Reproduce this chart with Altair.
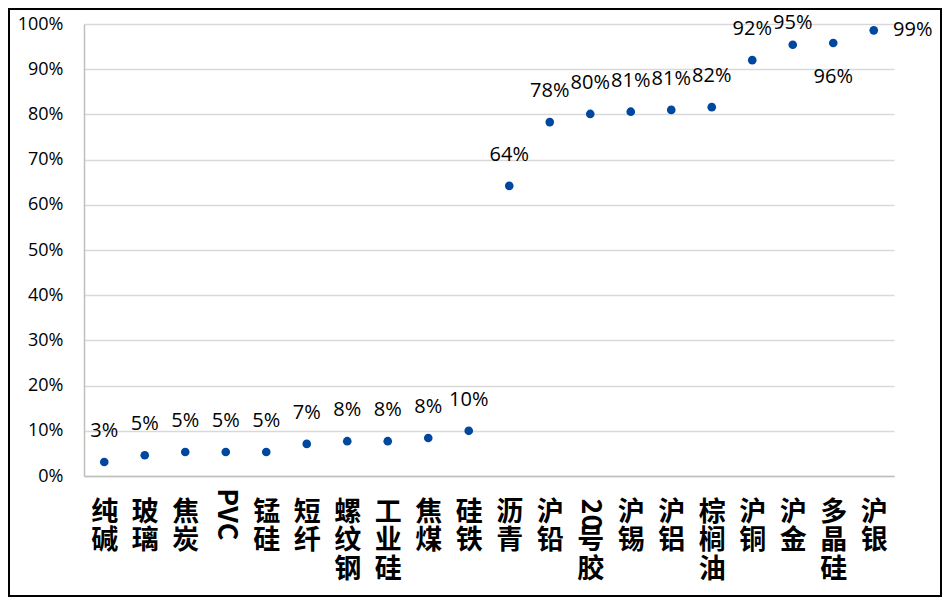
import json
import altair as alt
import pandas as pd

categories = ["纯碱", "玻璃", "焦炭", "PVC", "锰硅", "短纤", "螺纹钢", "工业硅", "焦煤", "硅铁",
              "沥青", "沪铅", "20号胶", "沪锡", "沪铝", "棕榈油", "沪铜", "沪金", "多晶硅", "沪银"]
values = [0.031, 0.046, 0.053, 0.053, 0.053, 0.071, 0.077, 0.077, 0.084, 0.100,
          0.642, 0.783, 0.801, 0.806, 0.810, 0.816, 0.920, 0.954, 0.958, 0.986]
y_ticks = [i / 10 for i in range(11)]
label_below = ["多晶硅"]
label_right = ["沪银"]
label_squeezed = ["沪金"]

df = pd.DataFrame({"cat": categories, "v": values})

W, H = 810, 452
PL, PT, PR, PB = 76, 16, 48, 121
LFS, LLH, LPAD = 27, 28.8, 27


def split_lines(s):
    lines, buf = [], ""
    for ch in s:
        if ch.isascii():
            buf += ch
        else:
            if buf:
                lines.append(buf)
                buf = ""
            lines.append(ch)
    if buf:
        lines.append(buf)
    return lines


# upright CJK characters go to the axis labels; latin runs are drawn rotated
label_map = {}
rot_rows = []
for c in categories:
    ls = split_lines(c)
    out = []
    for i, seg in enumerate(ls):
        if seg.isascii():
            out.append(" ")
            rot_rows.append({"cat": c, "seg": seg, "line": i, "span": len(ls) if len(ls) == 1 else 1})
        else:
            out.append(seg)
    label_map[c] = out
label_js = json.dumps(label_map, ensure_ascii=False)

x = alt.X("cat:N", sort=categories, title=None,
          scale=alt.Scale(paddingInner=0, paddingOuter=0.5),
          axis=alt.Axis(labelAngle=0, labelExpr=f"{label_js}[datum.value]",
                        labelFont="Noto Sans CJK SC", labelFontWeight="bold",
                        labelFontSize=LFS, labelLineHeight=LLH, labelColor="#000000",
                        labelPadding=LPAD - 4, ticks=False, domainColor="#bfbfbf",
                        domainWidth=1.5, grid=False, labelBaseline="top"))
y = alt.Y("v:Q", title=None,
          scale=alt.Scale(domain=[0, 1], nice=False),
          axis=alt.Axis(values=y_ticks, format=".0%", labelFont="Open Sans",
                        labelFontSize=18, labelColor="#000000", labelPadding=21,
                        ticks=False, domainColor="#bfbfbf", domainWidth=1.5,
                        gridColor="#d9d9d9", gridWidth=1.5))

base = alt.Chart(df)

points = base.mark_point(filled=True, size=75, color="#0047a0", opacity=1).encode(x=x, y=y)

txt_kw = dict(font="Open Sans", fontSize=20, color="#000000", baseline="middle")
lab = alt.Text("v:Q", format=".0%")

above = base.transform_filter(
    ~alt.FieldOneOfPredicate(field="cat", oneOf=label_below + label_right + label_squeezed)
).mark_text(dy=-31, align="center", **txt_kw).encode(x=x, y=y, text=lab)

squeezed = base.transform_filter(
    alt.FieldOneOfPredicate(field="cat", oneOf=label_squeezed)
).mark_text(dy=-22, align="center", **txt_kw).encode(x=x, y=y, text=lab)

below = base.transform_filter(
    alt.FieldOneOfPredicate(field="cat", oneOf=label_below)
).mark_text(dy=34, align="center", **txt_kw).encode(x=x, y=y, text=lab)

right = base.transform_filter(
    alt.FieldOneOfPredicate(field="cat", oneOf=label_right)
).mark_text(dx=39, align="center", **txt_kw).encode(x=x, y=y, text=lab)

rot_df = pd.DataFrame(rot_rows)
rot_df["ypix"] = H + LPAD - 3 + rot_df["line"] * LLH + rot_df["span"].clip(upper=2) * LLH / 2
rotated = alt.Chart(rot_df).mark_text(
    angle=90, align="center", baseline="middle", font="Noto Sans CJK SC",
    fontWeight="bold", fontSize=LFS, color="#000000"
).encode(
    x=alt.X("cat:N", sort=categories, scale=alt.Scale(paddingInner=0, paddingOuter=0.5)),
    y=alt.Y("ypix:Q", scale=None),
    text="seg:N",
)

frame = alt.Chart(alt.Data(values=[{}])).mark_rect(
    filled=False, fill=None, stroke="#000000", strokeWidth=2
).encode(x=alt.value(-PL + 1), x2=alt.value(W + PR - 1),
         y=alt.value(-PT + 1), y2=alt.value(H + PB - 1))

chart = alt.layer(points, above, squeezed, below, right, rotated, frame).properties(
    width=W, height=H,
    autosize=alt.AutoSizeParams(type="none"),
    padding={"left": PL, "top": PT, "right": PR, "bottom": PB},
    background="#ffffff",
).configure_view(stroke=None)

chart.save("out.html", embed_options={"renderer": "svg", "actions": False})
